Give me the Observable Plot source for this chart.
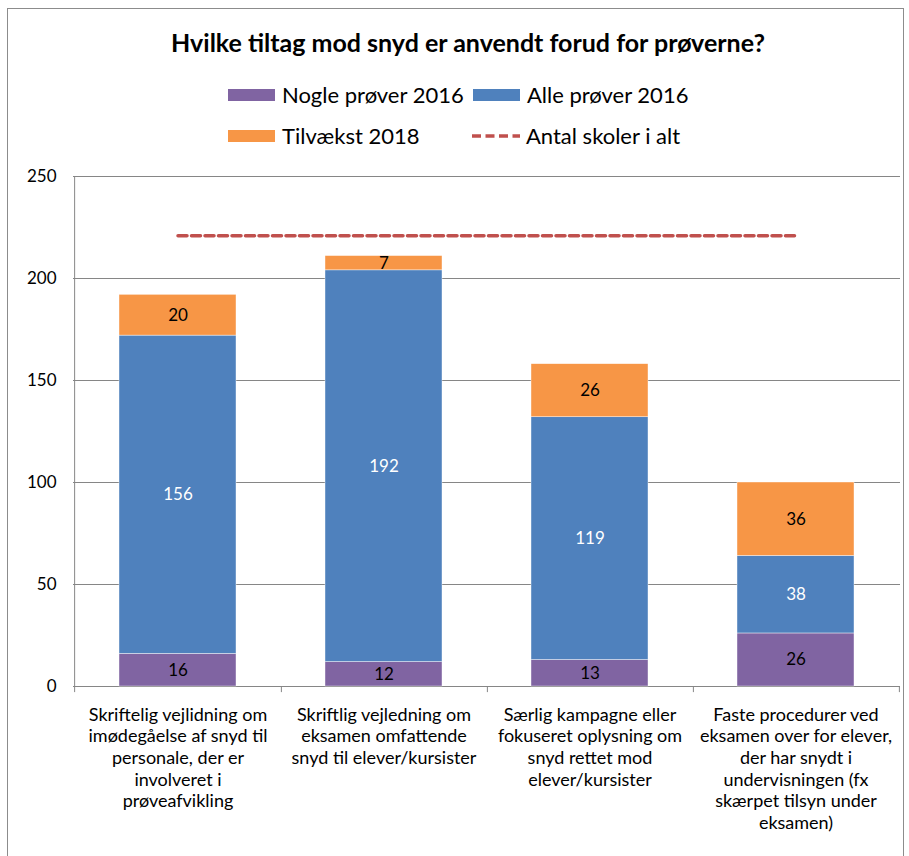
<!DOCTYPE html>
<html><head><meta charset="utf-8">
<script src="https://cdn.jsdelivr.net/npm/d3@7"></script>
<script src="https://cdn.jsdelivr.net/npm/@observablehq/plot@0.6"></script>
<style>
body{margin:0;background:#fff;font-family:Lato,"Open Sans",sans-serif;}
#wrap{position:relative;width:909px;height:856px;overflow:hidden;background:#fff;}
#frame{position:absolute;left:7px;top:8px;width:897px;height:900px;border:1.5px solid #8c8c8c;box-sizing:border-box;}
#title{position:absolute;left:0;width:936px;top:27px;text-align:center;font-weight:bold;font-size:25px;color:#000;}
.leg{position:absolute;font-size:22px;color:#000;line-height:26px;white-space:nowrap;}
.sw{position:absolute;width:47px;height:12px;}
#chart{position:absolute;left:8px;top:160px;}
</style></head>
<body><div id="wrap">
<div id="frame"></div>
<div id="title">Hvilke tiltag mod snyd er anvendt forud for prøverne?</div>
<div id="legend"></div>
<div id="chart"></div>
</div>
<script>
const categories = [
  "Skriftelig vejlidning om\nimødegåelse af snyd til\npersonale, der er\ninvolveret i\nprøveafvikling",
  "Skriftlig vejledning om\neksamen omfattende\nsnyd til elever/kursister",
  "Særlig kampagne eller\nfokuseret oplysning om\nsnyd rettet mod\nelever/kursister",
  "Faste procedurer ved\neksamen over for elever,\nder har snydt i\nundervisningen (fx\nskærpet tilsyn under\neksamen)"
];
const seriesNames = ["Nogle prøver 2016", "Alle prøver 2016", "Tilvækst 2018"];
const lineName = "Antal skoler i alt";
const nogle = [16, 12, 13, 26];
const alle = [156, 192, 119, 38];
const tilvaekst = [20, 7, 26, 36];
const antal = [221, 221, 221, 221];
const yTicks = [0, 50, 100, 150, 200, 250];
const colors = ["#8064A2", "#4F81BD", "#F79646"];
const labelColors = ["#000", "#fff", "#000"];
const lineColor = "#C0504D";

const seriesValues = [nogle, alle, tilvaekst];
const table = [];
seriesNames.forEach((s, si) => categories.forEach((c, ci) => table.push({cat: c, series: s, value: seriesValues[si][ci]})));
const lineData = categories.map((c, i) => ({cat: c, value: antal[i]}));

// legend
const legend = document.getElementById("legend");
const legItems = [
  {name: seriesNames[0], color: colors[0], x: 228, y: 82},
  {name: seriesNames[1], color: colors[1], x: 473, y: 82},
  {name: seriesNames[2], color: colors[2], x: 228, y: 123},
  {name: lineName, color: lineColor, x: 472, y: 123, dashed: true}
];
legItems.forEach(it => {
  if (it.dashed) {
    const s = document.createElementNS("http://www.w3.org/2000/svg", "svg");
    s.setAttribute("width", 50); s.setAttribute("height", 12);
    s.style.position = "absolute"; s.style.left = it.x + "px"; s.style.top = (it.y + 7) + "px";
    s.innerHTML = `<line x1="0" x2="48" y1="6" y2="6" stroke="${it.color}" stroke-width="3.5" stroke-dasharray="9,4.5"/>`;
    legend.appendChild(s);
  } else {
    const sw = document.createElement("div");
    sw.className = "sw"; sw.style.background = it.color;
    sw.style.left = it.x + "px"; sw.style.top = (it.y + 7) + "px";
    legend.appendChild(sw);
  }
  const t = document.createElement("div");
  t.className = "leg"; t.textContent = it.name;
  t.style.left = (it.x + 54) + "px"; t.style.top = it.y + "px";
  legend.appendChild(t);
});

const W = 900, ML = 65, MR = 8;
const step = (W - ML - MR) / categories.length;

const plot = Plot.plot({
  width: W, height: 696,
  marginLeft: ML, marginRight: MR, marginTop: 16, marginBottom: 170,
  style: {fontFamily: "Lato, 'Open Sans', sans-serif", fontSize: "17px", background: "transparent", overflow: "visible"},
  x: {domain: categories, paddingInner: 0.43, paddingOuter: 0.215, axis: null},
  y: {domain: [0, 250], axis: null},
  color: {domain: seriesNames, range: colors},
  marks: [
    Plot.ruleY(yTicks, {stroke: "#868686", strokeWidth: 1}),
    Plot.axisY({ticks: yTicks, tickSize: 0, tickPadding: 17, fontSize: 17, fill: "#000", label: null}),
    Plot.ruleX([categories[0]], {x: d => d, dx: -step / 2, y1: -3, y2: 250, stroke: "#868686"}),
    Plot.ruleX(categories, {x: d => d, dx: step / 2, y1: -3, y2: 0, stroke: "#868686"}),
    Plot.barY(table, Plot.stackY({x: "cat", y: "value", fill: "series", order: seriesNames, stroke: "#fff", strokeWidth: 0.6, strokeOpacity: 0.7})),
    ...seriesNames.map((s, si) => Plot.text(table, Plot.stackY({x: "cat", y: "value", z: "series", order: seriesNames, text: d => d.series === s ? String(d.value) : "", fill: labelColors[si], fontSize: 17}))),
    Plot.line(lineData, {x: "cat", y: "value", stroke: lineColor, strokeWidth: 3.5, strokeDasharray: "9,4.5"}),
    Plot.text(categories, {x: d => d, text: d => d, frameAnchor: "bottom", lineAnchor: "top", dy: 19, lineHeight: 1.2, fontSize: 18, fill: "#000"})
  ]
});
document.getElementById("chart").appendChild(plot);
</script>
</body></html>
